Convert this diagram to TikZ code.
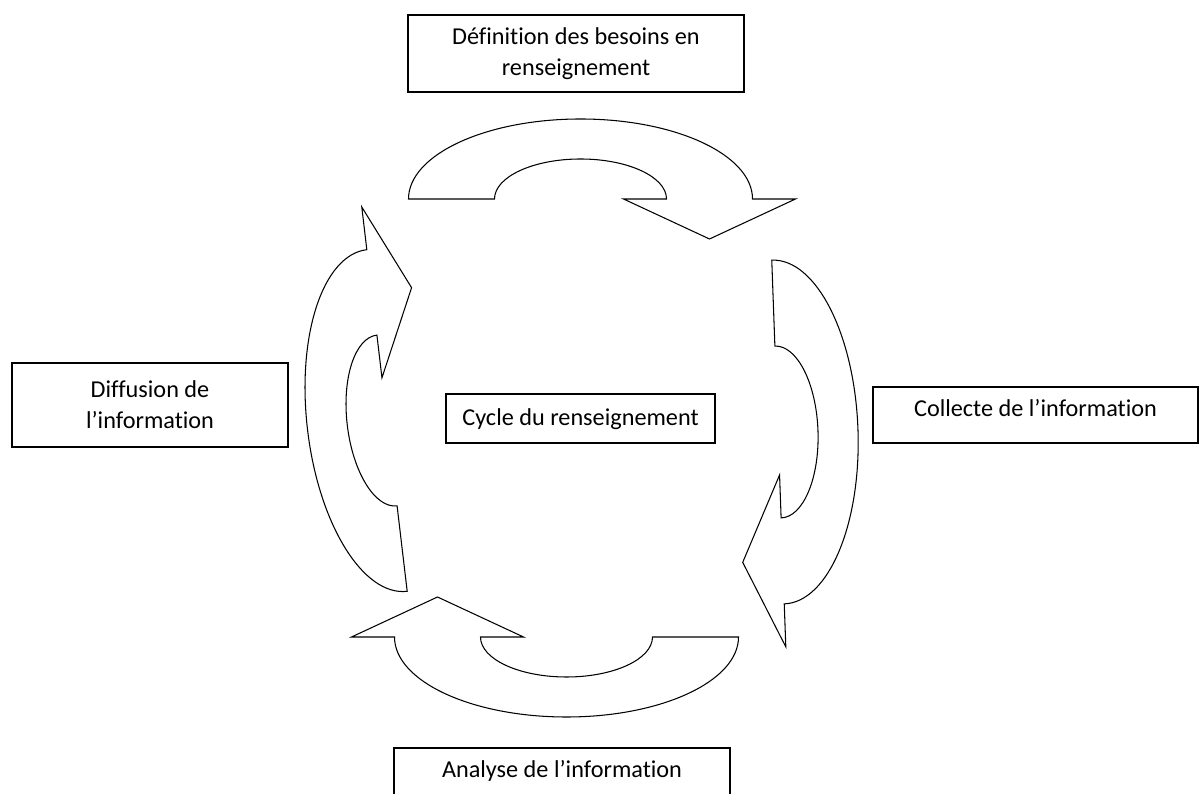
\documentclass[tikz,border=0pt]{standalone}
\usepackage{fontspec}
\setmainfont{Carlito}[Ligatures=NoCommon]
\newcommand{\boxfont}{\fontsize{13.8pt}{17.5pt}\selectfont}
\tikzset{
  box/.style={draw, line width=0.8pt, align=center, inner sep=0pt, font=\boxfont},
  curvedarrow/.style={draw, line width=0.6pt, line join=miter}
}
\begin{document}
\begin{tikzpicture}[x=0.02cm, y=0.02cm]
  \useasboundingbox (0,0) rectangle (1200,794);
  \clip (0,0) rectangle (1200,794);
  % boxes
  \node[box, minimum width=6.72cm, minimum height=1.54cm] (def) at (576,740.5) {Définition des besoins en\\renseignement};
  \node[box, minimum width=6.5cm, text height=0.6cm, text depth=0.52cm] (coll) at (1035.5,379) {Collecte de l’information};
  \node[box, minimum width=6.72cm, text height=0.6cm, text depth=0.52cm] (ana) at (562,18) {Analyse de l’information};
  \node[box, minimum width=5.52cm, minimum height=1.68cm] (diff) at (150,389) {Diffusion de\\l’information};
  \node[box, minimum width=5.38cm, text height=0.64cm, text depth=0.34cm] (cycle) at (580.5,375.5) {Cycle du renseignement};
  % curved arrows of the cycle
  \foreach \px/\py/\ang in {580.5/595/0, 778/362/-87.92, 566.5/157/180, 387/373.5/96.74}
    \draw[curvedarrow, shift={(\px,\py)}, rotate=\ang]
      (-172,0) arc[start angle=180, end angle=0, x radius=172, y radius=80]
      -- (215,0) -- (129,-40) -- (43,0) -- (86,0)
      arc[start angle=0, end angle=180, x radius=86, y radius=40] -- cycle;
\end{tikzpicture}
\end{document}
